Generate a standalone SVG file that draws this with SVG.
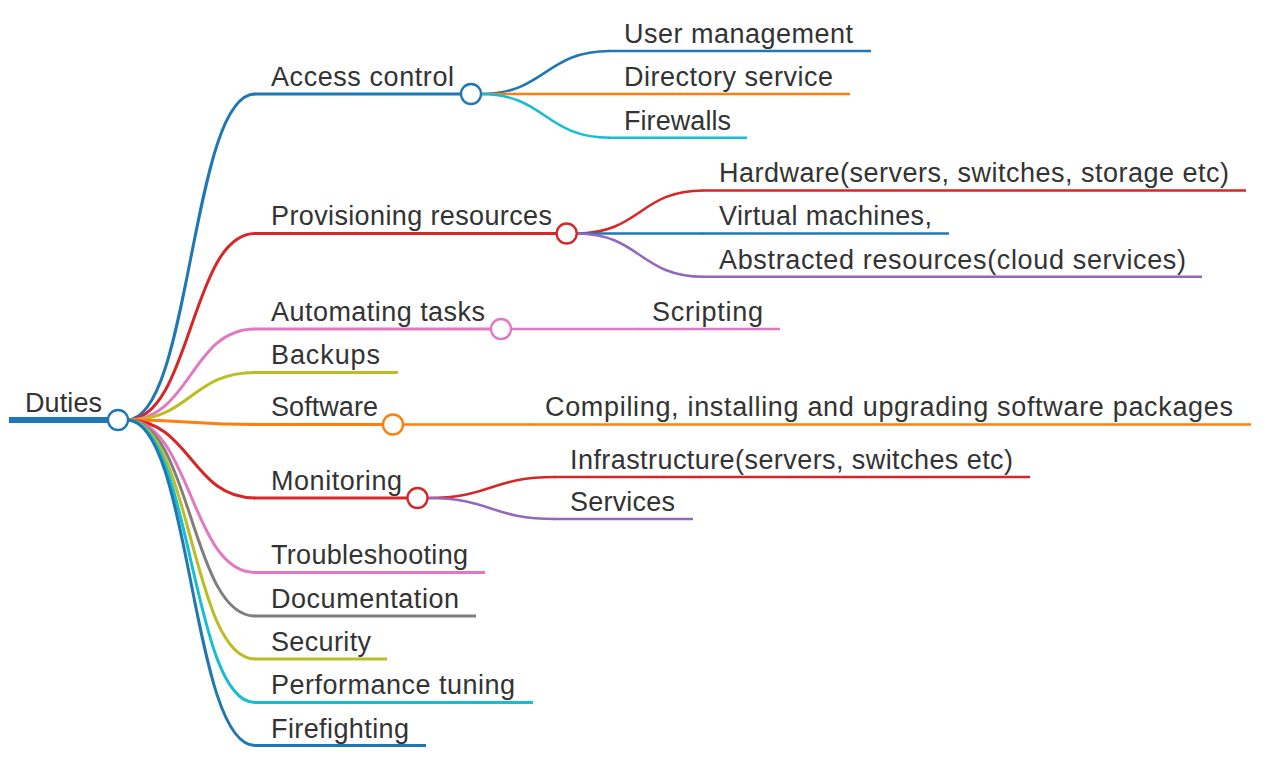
<svg xmlns="http://www.w3.org/2000/svg" width="1274" height="780" viewBox="0 0 1274 780">
<style>
  text { font-family: "Liberation Sans", Arial, sans-serif; font-size: 27px; fill: #333333; lengthAdjust: spacingAndGlyphs; }
  .l1 { fill: none; stroke-width: 3; }
  .l2 { fill: none; stroke-width: 2.5; }
  .ul1 { stroke-width: 3; }
  .ul2 { stroke-width: 2.5; }
  circle { fill: #ffffff; stroke-width: 2.3; }
  .blue { stroke: #1f77b4; }
  .orange { stroke: #ff7f0e; }
  .red { stroke: #d62728; }
  .purple { stroke: #9467bd; }
  .pink { stroke: #e377c2; }
  .gray { stroke: #7f7f7f; }
  .olive { stroke: #bcbd22; }
  .cyan { stroke: #17becf; }
</style>
<rect width="1274" height="780" fill="#ffffff"/>
<g id="connectors">
  <path class="l1 blue" d="M127,420 C191,420 191,94 255,94"/>
  <path class="l1 red" d="M127,420 C191,420 191,233.5 255,233.5"/>
  <path class="l1 pink" d="M127,420 C191,420 191,329 255,329"/>
  <path class="l1 olive" d="M127,420 C191,420 191,372.5 255,372.5"/>
  <path class="l1 orange" d="M127,420 C191,420 191,424.5 255,424.5"/>
  <path class="l1 red" d="M127,420 C191,420 191,498 255,498"/>
  <path class="l1 pink" d="M127,420 C191,420 191,572.5 255,572.5"/>
  <path class="l1 gray" d="M127,420 C191,420 191,616 255,616"/>
  <path class="l1 olive" d="M127,420 C191,420 191,659 255,659"/>
  <path class="l1 cyan" d="M127,420 C191,420 191,702.5 255,702.5"/>
  <path class="l1 blue" d="M127,420 C191,420 191,745.5 255,745.5"/>
  <path class="l2 blue" d="M481,94 C545,94 545,51 610,51"/>
  <path class="l2 orange" d="M481,94 C545,94 545,94 610,94"/>
  <path class="l2 cyan" d="M481,94 C545,94 545,137.7 610,137.7"/>
  <path class="l2 red" d="M576.5,233.5 C640,233.5 640,190.5 703,190.5"/>
  <path class="l2 blue" d="M576.5,233.5 C640,233.5 640,233.5 703,233.5"/>
  <path class="l2 purple" d="M576.5,233.5 C640,233.5 640,276.7 703,276.7"/>
  <path class="l2 pink" d="M511,329 L640,329"/>
  <path class="l2 orange" d="M403,424.5 L530,424.5"/>
  <path class="l2 red" d="M427.5,498 C491,498 491,477 555,477"/>
  <path class="l2 purple" d="M427.5,498 C491,498 491,519 555,519"/>
</g>
<g id="node-duties">
  <line x1="9" y1="420" x2="110" y2="420" stroke="#1f77b4" stroke-width="6"/>
  <circle cx="118" cy="420" r="10" class="blue"/>
  <text x="25" y="411.5" textLength="77">Duties</text>
</g>
<g id="node-access-control">
  <line class="ul1 blue" x1="254" y1="94" x2="461" y2="94"/>
  <circle cx="471" cy="94" r="10" class="blue"/>
  <text x="271" y="85.5" textLength="183">Access control</text>
</g>
<g id="node-user-management">
  <line class="ul2 blue" x1="609" y1="51" x2="871" y2="51"/>
  <text x="624" y="42.5" textLength="229">User management</text>
</g>
<g id="node-directory-service">
  <line class="ul2 orange" x1="609" y1="94" x2="850" y2="94"/>
  <text x="624" y="86" textLength="209">Directory service</text>
</g>
<g id="node-firewalls">
  <line class="ul2 cyan" x1="609" y1="137.7" x2="747" y2="137.7"/>
  <text x="624" y="129.5" textLength="107">Firewalls</text>
</g>
<g id="node-provisioning">
  <line class="ul1 red" x1="254" y1="233.5" x2="557" y2="233.5"/>
  <circle cx="566.7" cy="233.5" r="10" class="red"/>
  <text x="271" y="225" textLength="281">Provisioning resources</text>
</g>
<g id="node-hardware">
  <line class="ul2 red" x1="702" y1="190.5" x2="1246" y2="190.5"/>
  <text x="719" y="182" textLength="510">Hardware(servers, switches, storage etc)</text>
</g>
<g id="node-virtual-machines">
  <line class="ul2 blue" x1="702" y1="233.5" x2="949" y2="233.5"/>
  <text x="719" y="225" textLength="213">Virtual machines,</text>
</g>
<g id="node-abstracted">
  <line class="ul2 purple" x1="702" y1="276.7" x2="1202" y2="276.7"/>
  <text x="719" y="268.5" textLength="467">Abstracted resources(cloud services)</text>
</g>
<g id="node-automating">
  <line class="ul1 pink" x1="254" y1="329" x2="491" y2="329"/>
  <circle cx="501" cy="329" r="10" class="pink"/>
  <text x="271" y="320.5" textLength="214">Automating tasks</text>
</g>
<g id="node-scripting">
  <line class="ul2 pink" x1="639" y1="329" x2="780" y2="329"/>
  <text x="652" y="320.5" textLength="111">Scripting</text>
</g>
<g id="node-backups">
  <line class="ul1 olive" x1="254" y1="372.5" x2="398" y2="372.5"/>
  <text x="271" y="364" textLength="109">Backups</text>
</g>
<g id="node-software">
  <line class="ul1 orange" x1="254" y1="424.5" x2="383" y2="424.5"/>
  <circle cx="393" cy="424.5" r="10" class="orange"/>
  <text x="271" y="416" textLength="107">Software</text>
</g>
<g id="node-compiling">
  <line class="ul2 orange" x1="529" y1="424.5" x2="1251" y2="424.5"/>
  <text x="545" y="416" textLength="688">Compiling, installing and upgrading software packages</text>
</g>
<g id="node-monitoring">
  <line class="ul1 red" x1="254" y1="498" x2="407" y2="498"/>
  <circle cx="417.5" cy="498" r="10" class="red"/>
  <text x="271" y="489.5" textLength="131">Monitoring</text>
</g>
<g id="node-infrastructure">
  <line class="ul2 red" x1="554" y1="477" x2="1030" y2="477"/>
  <text x="570" y="468.5" textLength="443">Infrastructure(servers, switches etc)</text>
</g>
<g id="node-services">
  <line class="ul2 purple" x1="554" y1="519" x2="693" y2="519"/>
  <text x="570" y="510.5" textLength="105">Services</text>
</g>
<g id="node-troubleshooting">
  <line class="ul1 pink" x1="254" y1="572.5" x2="485" y2="572.5"/>
  <text x="271" y="564" textLength="197">Troubleshooting</text>
</g>
<g id="node-documentation">
  <line class="ul1 gray" x1="254" y1="616" x2="476" y2="616"/>
  <text x="271" y="607.5" textLength="188">Documentation</text>
</g>
<g id="node-security">
  <line class="ul1 olive" x1="254" y1="659" x2="387" y2="659"/>
  <text x="271" y="650.5" textLength="100">Security</text>
</g>
<g id="node-performance">
  <line class="ul1 cyan" x1="254" y1="702.5" x2="533" y2="702.5"/>
  <text x="271" y="694" textLength="244">Performance tuning</text>
</g>
<g id="node-firefighting">
  <line class="ul1 blue" x1="254" y1="745.5" x2="426" y2="745.5"/>
  <text x="271" y="737.5" textLength="138">Firefighting</text>
</g>
</svg>
